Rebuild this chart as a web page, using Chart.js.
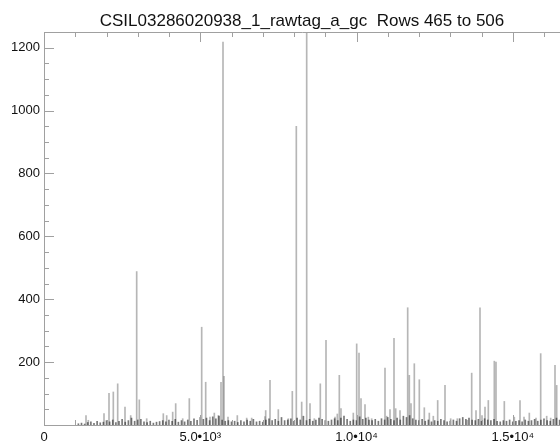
<!DOCTYPE html>
<html>
<head>
<meta charset="utf-8">
<script src="https://cdn.jsdelivr.net/npm/chart.js@4.4.0/dist/chart.umd.min.js"></script>
<style>
  html, body { margin: 0; padding: 0; background: #fff; overflow: hidden; }
</style>
</head>
<body>
<canvas id="plot" width="560" height="445"></canvas>
<script>
const title = 'CSIL03286020938_1_rawtag_a_gc  Rows 465 to 506';

// tall spikes (x position, counts)
const peakX = [1344, 1418, 1920, 2080, 2218, 2358, 2592, 2774, 2966, 3050, 3286,
  3818, 3926, 4118, 4214, 4438, 4650, 5046, 5174, 5312, 5450, 5578, 5664, 5728, 5760,
  5888, 6186, 6486, 6646, 7072, 7094, 7232, 7498, 7818, 7946, 8074, 8246, 8406, 8512,
  8650, 8842, 9024, 9312, 9386, 9450, 9504, 9898, 10006, 10080, 10144, 10272, 10378,
  10486, 10912, 10966, 11072, 11200, 11254, 11392, 11638, 11690, 11744, 11850, 12010,
  12170, 12330, 12458, 12598, 12832, 13014, 13226, 13546, 13686, 13824, 13952, 14016,
  14112, 14218, 14410, 14464, 14730, 15050, 15232, 15360, 15530, 15744, 15894, 16086,
  16214, 16352, 16406];
const peakY = [30, 15, 36, 101, 105, 131, 57, 30, 488, 80, 20,
  36, 30, 41, 68, 20, 84, 311, 136, 25, 38, 30, 136, 1218, 155,
  25, 30, 22, 22, 27, 46, 142, 49, 20, 107, 950, 73, 1300, 68,
  20, 131, 269, 25, 35, 158, 52, 38, 258, 229, 84, 65, 25,
  20, 181, 28, 49, 276, 52, 46, 373, 158, 68, 195, 144,
  55, 38, 28, 78, 126, 20, 20, 15, 165, 46, 373, 30,
  57, 78, 203, 200, 75, 25, 78, 25, 38, 22, 227, 28,
  22, 190, 126];

// low-level clutter along the bottom, one value every 100
const floorStart = 1100;
const floorStep = 100;
const floorY = [4, 6, 3, 8, 10, 5, 12, 7, 9, 14,
  10, 16, 8, 12, 18, 9, 14, 22, 12, 16,
  18, 10, 8, 12, 6, 9, 11, 14, 10, 16,
  12, 18, 9, 14, 10, 16, 12, 20, 15, 24,
  18, 22, 14, 26, 20, 28, 16, 12, 14, 10,
  12, 8, 14, 10, 16, 12, 18, 10, 12, 9,
  16, 20, 14, 18, 12, 24, 14, 16, 20, 12,
  22, 16, 28, 14, 18, 12, 16, 22, 18, 14,
  12, 16, 20, 14, 22, 28, 18, 12, 16, 14,
  26, 18, 22, 16, 14, 18, 12, 20, 16, 24,
  18, 14, 22, 16, 28, 24, 30, 20, 16, 14,
  18, 12, 16, 10, 14, 12, 18, 14, 10, 12,
  16, 12, 20, 24, 18, 22, 16, 14, 18, 12,
  20, 16, 14, 18, 12, 10, 14, 12, 16, 10,
  12, 14, 10, 16, 12, 14, 18, 12, 16, 20,
  14, 12, 18, 22, 16, 20];

const xTickLabels = { 0: '0', 5000: '5.0•10³', 10000: '1.0•10⁴', 15000: '1.5•10⁴' };
const yTickLabels = [200, 400, 600, 800, 1000, 1200];

const peaks = peakX.map((x, i) => ({ x: x, y: peakY[i] }));
const floor = floorY.map((y, i) => ({ x: floorStart + i * floorStep, y: y }));

const font = '"Liberation Sans", Arial, sans-serif';

function stepTicks(from, to, step) {
  const out = [];
  for (let v = from; v <= to; v += step) out.push({ value: v });
  return out;
}

// IDL style box with inward ticks + title
const idlFrame = {
  id: 'idlFrame',
  afterDraw(chart) {
    const ctx = chart.ctx;
    const a = chart.chartArea;
    const xs = chart.scales.x, ys = chart.scales.y;
    ctx.save();
    ctx.strokeStyle = '#a0a0a0';
    ctx.lineWidth = 1;
    ctx.beginPath();
    ctx.moveTo(a.left + 0.5, a.bottom + 0.5);
    ctx.lineTo(a.left + 0.5, a.top + 0.5);
    ctx.lineTo(a.right, a.top + 0.5);
    ctx.moveTo(a.left, a.bottom + 0.5);
    ctx.lineTo(a.right, a.bottom + 0.5);
    xs.ticks.forEach(t => {
      const px = Math.round(xs.getPixelForValue(t.value)) + 0.5;
      const len = t.value % 5000 === 0 ? 10 : 5;
      ctx.moveTo(px, a.bottom); ctx.lineTo(px, a.bottom - len);
      ctx.moveTo(px, a.top); ctx.lineTo(px, a.top + len);
    });
    ys.ticks.forEach(t => {
      const py = Math.round(ys.getPixelForValue(t.value)) + 0.5;
      const len = t.value % 200 === 0 ? 10 : 5;
      ctx.moveTo(a.left, py); ctx.lineTo(a.left + len, py);
    });
    ctx.stroke();
    ctx.fillStyle = '#111';
    ctx.font = '17px ' + font;
    ctx.textAlign = 'center';
    ctx.textBaseline = 'alphabetic';
    ctx.fillText(title, (a.left + a.right) / 2, 26);
    ctx.restore();
  }
};

new Chart(document.getElementById('plot'), {
  type: 'bar',
  data: {
    datasets: [
      { data: peaks, backgroundColor: 'rgba(110,110,110,0.5)', barThickness: 1, grouped: false, order: 2 },
      { data: floor, backgroundColor: 'rgba(30,30,30,0.6)', barThickness: 1, grouped: false, order: 1 }
    ]
  },
  options: {
    responsive: false,
    animation: false,
    layout: { padding: { top: 32, left: 0, right: 0, bottom: 0 } },
    plugins: { legend: { display: false }, tooltip: { enabled: false }, title: { display: false } },
    scales: {
      x: {
        type: 'linear',
        offset: false,
        min: 0,
        max: 16512,
        grid: { display: false, drawTicks: false },
        border: { display: false },
        afterBuildTicks: s => { s.ticks = stepTicks(0, 16000, 1000); },
        afterFit: s => { s.height = 20; },
        ticks: {
          autoSkip: false,
          maxRotation: 0,
          padding: 5,
          color: '#111',
          font: { family: font, size: 13 },
          callback: v => xTickLabels[v] !== undefined ? xTickLabels[v] : ''
        }
      },
      y: {
        min: 0,
        max: 1250,
        grid: { display: false, drawTicks: false },
        border: { display: false },
        afterBuildTicks: s => { s.ticks = stepTicks(0, 1250, 50); },
        afterFit: s => { s.width = 44; },
        ticks: {
          autoSkip: false,
          padding: 4,
          color: '#111',
          font: { family: font, size: 13 },
          callback: v => yTickLabels.includes(v) ? String(v) : ''
        }
      }
    }
  },
  plugins: [idlFrame]
});
</script>
</body>
</html>
